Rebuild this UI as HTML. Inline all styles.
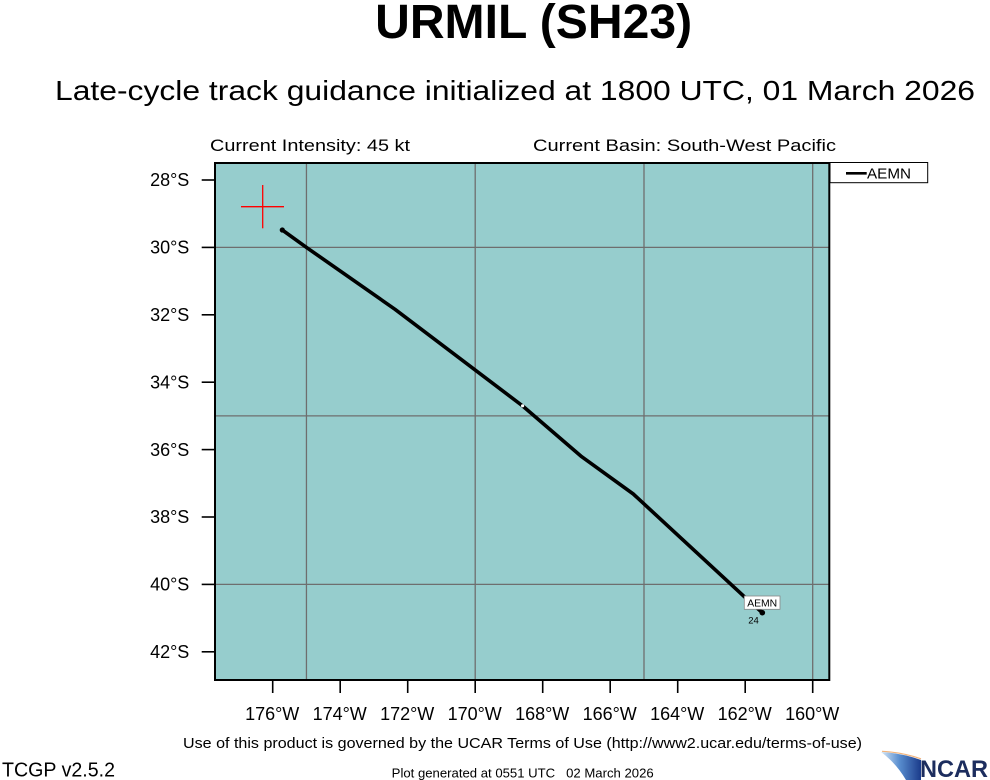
<!DOCTYPE html>
<html>
<head>
<meta charset="utf-8">
<style>
  html, body { margin: 0; padding: 0; background: #ffffff; }
  body { width: 990px; height: 780px; overflow: hidden; }
  svg { display: block; font-family: "Liberation Sans", "DejaVu Sans", sans-serif; }
</style>
</head>
<body>
<svg width="990" height="780" viewBox="0 0 990 780" xmlns="http://www.w3.org/2000/svg">
  <rect x="0" y="0" width="990" height="780" fill="#ffffff"/>

  <!-- Titles -->
  <text x="533.6" y="38" text-anchor="middle" font-size="48" font-weight="bold" textLength="317" lengthAdjust="spacingAndGlyphs" fill="#000">URMIL (SH23)</text>
  <text x="55" y="100" font-size="28" textLength="920" lengthAdjust="spacingAndGlyphs" fill="#000">Late-cycle track guidance initialized at 1800 UTC, 01 March 2026</text>
  <text x="210" y="151" font-size="17" textLength="200" lengthAdjust="spacingAndGlyphs" fill="#000">Current Intensity: 45 kt</text>
  <text x="533" y="151" font-size="17" textLength="303" lengthAdjust="spacingAndGlyphs" fill="#000">Current Basin: South-West Pacific</text>

  <!-- Map background -->
  <rect x="215" y="163" width="614.3" height="517" fill="#96cdcd"/>

  <!-- Grid lines -->
  <g stroke="#6e6e6e" stroke-width="1.3">
    <line x1="306.45" y1="163" x2="306.45" y2="680"/>
    <line x1="475.2" y1="163" x2="475.2" y2="680"/>
    <line x1="644" y1="163" x2="644" y2="680"/>
    <line x1="812.7" y1="163" x2="812.7" y2="680"/>
    <line x1="215" y1="247.4" x2="829.3" y2="247.4"/>
    <line x1="215" y1="415.9" x2="829.3" y2="415.9"/>
    <line x1="215" y1="584.4" x2="829.3" y2="584.4"/>
  </g>

  <!-- Red cross (current position) -->
  <g stroke="#ff0000" stroke-width="1.3">
    <line x1="241" y1="206.7" x2="284" y2="206.7"/>
    <line x1="262.7" y1="185" x2="262.7" y2="228.3"/>
  </g>

  <!-- Track -->
  <polyline points="282.3,230 306.3,247.3 395,309.3 522.7,406 581.7,456.7 633.3,494 745,597.3 762.3,612.7" fill="none" stroke="#000" stroke-width="3.6" stroke-linejoin="round" stroke-linecap="round"/>
  <circle cx="282.3" cy="230" r="2.6" fill="#000"/>
  <circle cx="522.6" cy="405.8" r="1.6" fill="#ffffff"/>
  <circle cx="762.3" cy="612.7" r="2.8" fill="#000"/>

  <!-- Track label -->
  <rect x="744.3" y="596" width="35.7" height="13.3" fill="#ffffff" stroke="#888" stroke-width="0.8"/>
  <text x="762.2" y="606.4" text-anchor="middle" font-size="10.4" textLength="30" lengthAdjust="spacingAndGlyphs" fill="#000">AEMN</text>
  <text x="753.5" y="623.3" text-anchor="middle" font-size="9.5" fill="#000">24</text>

  <!-- Frame -->
  <rect x="215" y="163" width="614.3" height="517" fill="none" stroke="#000" stroke-width="2"/>

  <!-- Y ticks -->
  <g stroke="#000" stroke-width="1.6">
    <line x1="201.7" y1="180" x2="215" y2="180"/>
    <line x1="201.7" y1="247.4" x2="215" y2="247.4"/>
    <line x1="201.7" y1="314.8" x2="215" y2="314.8"/>
    <line x1="201.7" y1="382.2" x2="215" y2="382.2"/>
    <line x1="201.7" y1="449.6" x2="215" y2="449.6"/>
    <line x1="201.7" y1="517" x2="215" y2="517"/>
    <line x1="201.7" y1="584.4" x2="215" y2="584.4"/>
    <line x1="201.7" y1="651.8" x2="215" y2="651.8"/>
  </g>
  <g font-size="18" text-anchor="end" fill="#000">
    <text x="189.3" y="186.2">28°S</text>
    <text x="189.3" y="253.6">30°S</text>
    <text x="189.3" y="321">32°S</text>
    <text x="189.3" y="388.4">34°S</text>
    <text x="189.3" y="455.8">36°S</text>
    <text x="189.3" y="523.2">38°S</text>
    <text x="189.3" y="590.6">40°S</text>
    <text x="189.3" y="658">42°S</text>
  </g>

  <!-- X ticks -->
  <g stroke="#000" stroke-width="1.6">
    <line x1="272.7" y1="680" x2="272.7" y2="693"/>
    <line x1="340.2" y1="680" x2="340.2" y2="693"/>
    <line x1="407.7" y1="680" x2="407.7" y2="693"/>
    <line x1="475.2" y1="680" x2="475.2" y2="693"/>
    <line x1="542.7" y1="680" x2="542.7" y2="693"/>
    <line x1="610.2" y1="680" x2="610.2" y2="693"/>
    <line x1="677.7" y1="680" x2="677.7" y2="693"/>
    <line x1="745.2" y1="680" x2="745.2" y2="693"/>
    <line x1="812.7" y1="680" x2="812.7" y2="693"/>
  </g>
  <g font-size="18" text-anchor="middle" fill="#000">
    <text x="272.2" y="720">176°W</text>
    <text x="339.7" y="720">174°W</text>
    <text x="407.2" y="720">172°W</text>
    <text x="474.7" y="720">170°W</text>
    <text x="542.2" y="720">168°W</text>
    <text x="609.7" y="720">166°W</text>
    <text x="677.2" y="720">164°W</text>
    <text x="744.7" y="720">162°W</text>
    <text x="812.2" y="720">160°W</text>
  </g>

  <!-- Legend -->
  <rect x="830" y="162.5" width="97.7" height="20.2" fill="#ffffff" stroke="#000" stroke-width="1"/>
  <line x1="846" y1="173.3" x2="866.7" y2="173.3" stroke="#000" stroke-width="2.6"/>
  <text x="867" y="178.3" font-size="15" textLength="44" lengthAdjust="spacingAndGlyphs" fill="#000">AEMN</text>

  <!-- Footer -->
  <text x="183" y="748" font-size="14.5" textLength="679" lengthAdjust="spacingAndGlyphs" fill="#000">Use of this product is governed by the UCAR Terms of Use (http://www2.ucar.edu/terms-of-use)</text>
  <text x="2" y="776.7" font-size="20" textLength="113" lengthAdjust="spacingAndGlyphs" fill="#000">TCGP v2.5.2</text>
  <text x="391.7" y="777.3" font-size="13" textLength="262" lengthAdjust="spacingAndGlyphs" fill="#000" xml:space="preserve">Plot generated at 0551 UTC   02 March 2026</text>

  <!-- NCAR logo -->
  <defs>
    <linearGradient id="sw" x1="0" y1="0" x2="1" y2="0">
      <stop offset="0" stop-color="#d6e8f7"/>
      <stop offset="0.45" stop-color="#5a8fd0"/>
      <stop offset="1" stop-color="#1a3a8a"/>
    </linearGradient>
  </defs>
  <path d="M881,752 Q902,753 921,760 L921,780 L906,780 Q896,763 881,752 Z" fill="url(#sw)"/>
  <path d="M882,751.3 Q902,752.3 921,758.8" fill="none" stroke="#f2b37a" stroke-width="1.2"/>
  <text x="920" y="777" font-size="24" font-weight="bold" textLength="68" lengthAdjust="spacingAndGlyphs" fill="#1c2d5e">NCAR</text>
</svg>
</body>
</html>
